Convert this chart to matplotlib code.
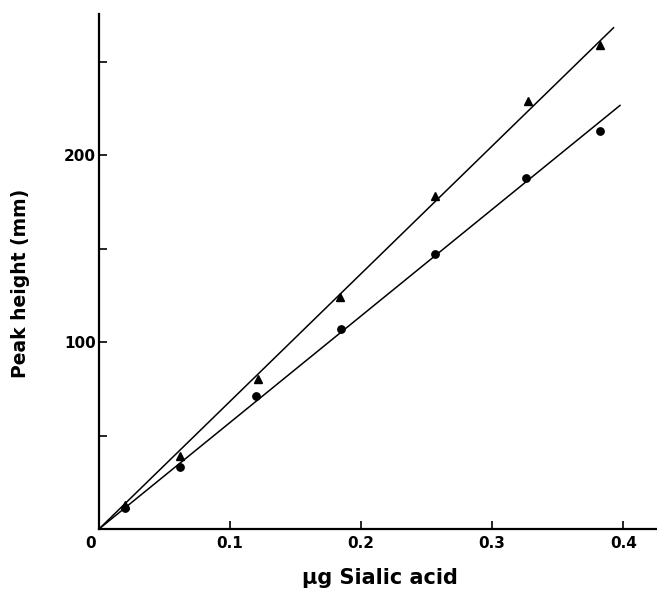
import matplotlib
matplotlib.use("Agg")
import matplotlib.pyplot as plt
import matplotlib.transforms as mtransforms
import numpy as np

# Data
x_tri = [0.02, 0.062, 0.121, 0.184, 0.256, 0.327, 0.382]
y_tri = [13, 39, 80, 124, 178, 229, 259]
x_cir = [0.02, 0.062, 0.12, 0.185, 0.256, 0.326, 0.382]
y_cir = [11, 33, 71, 107, 147, 188, 213]

# Fitted lines through origin (slope, x end)
slope_tri, xend_tri = 683, 0.393
slope_cir, xend_cir = 570, 0.398

xticks = [0, 0.1, 0.2, 0.3, 0.4]
xticklabels = ["0", "0.1", "0.2", "0.3", "0.4"]
yticks_major = [100, 200]
yticks_minor = [50, 150, 250]

plt.rcParams['font.family'] = ['DejaVu Sans']

fig = plt.figure(figsize=(6.57, 6.05), dpi=100)
ax = fig.add_axes([99/657, 76/605, 557/657, 515/605])

lx = np.array([0, xend_tri])
ax.plot(lx, slope_tri * lx, color='black', lw=1.1, solid_capstyle='butt')
lx2 = np.array([0, xend_cir])
ax.plot(lx2, slope_cir * lx2, color='black', lw=1.1, solid_capstyle='butt')

ax.plot(x_tri, y_tri, linestyle='none', marker='^', color='black', markersize=6)
ax.plot(x_cir, y_cir, linestyle='none', marker='o', color='black', markersize=5.3)

ax.set_xlim(0, 0.425)
ax.set_ylim(0, 275.5)

for s in ['top', 'right']:
    ax.spines[s].set_visible(False)
for s in ['left', 'bottom']:
    ax.spines[s].set_linewidth(1.6)

ax.set_xticks(xticks)
ax.set_xticklabels(xticklabels, fontsize=11, fontweight='bold')
ax.set_yticks(yticks_major)
ax.set_yticklabels([str(v) for v in yticks_major], fontsize=11, fontweight='bold')
ax.set_yticks(yticks_minor, minor=True)

ax.tick_params(axis='x', which='both', direction='in', length=6, width=1.2, pad=5)
ax.tick_params(axis='y', which='both', direction='in', length=5.5, width=1.2, pad=2)

# shift the "0" label left as in the reference
lbl0 = ax.get_xticklabels()[0]
lbl0.set_transform(lbl0.get_transform() + mtransforms.ScaledTranslation(-8/100, 0, fig.dpi_scale_trans))

ax.set_xlabel("µg Sialic acid", fontsize=15, fontweight='bold')
ax.set_ylabel("Peak height (mm)", fontsize=13.5, fontweight='bold')
ax.xaxis.set_label_coords(0.505, -0.076)
ax.yaxis.set_label_coords(-0.124, 0.476)

fig.savefig("out.png", dpi=100)
